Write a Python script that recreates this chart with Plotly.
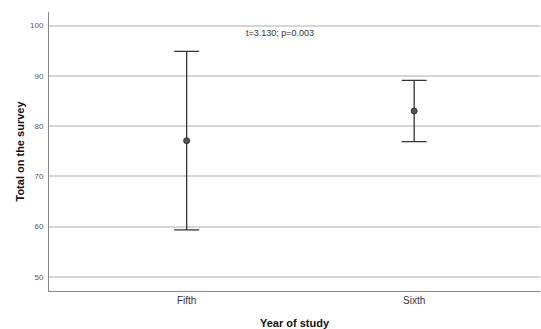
import plotly.graph_objects as go

categories = ["Fifth", "Sixth"]
means = [77.1, 83.0]
upper = [94.85, 89.1]
lower = [59.35, 76.9]
annotation_text = "t=3.130; p=0.003"

err_plus = [u - m for u, m in zip(upper, means)]
err_minus = [m - l for m, l in zip(means, lower)]

fig = go.Figure()
fig.add_trace(go.Scatter(
    x=[0, 1], y=means, mode="markers",
    marker=dict(size=6, color="#555555", line=dict(color="#333333", width=1)),
    error_y=dict(type="data", array=err_plus, arrayminus=err_minus,
                 color="#333333", thickness=1.3, width=12.5),
    showlegend=False, hoverinfo="skip",
))

fig.add_annotation(x=0.41, y=100.0, xref="x", yref="y", text=annotation_text,
                   showarrow=False, font=dict(family="Arial", size=9, color="#333333"),
                   yanchor="top")

fig.update_layout(
    width=541, height=329,
    margin=dict(l=49, r=1, t=12, b=38),
    plot_bgcolor="white", paper_bgcolor="white",
    font=dict(family="Arial"),
    xaxis=dict(
        range=[-0.605, 1.553], tickmode="array", tickvals=[0, 1], ticktext=categories,
        showgrid=False, zeroline=False, showline=True, linecolor="#888888", linewidth=1,
        ticks="", tickfont=dict(size=10, color="#333333"),
        title=dict(text="<b>Year of study</b>", font=dict(size=11, color="#111111"), standoff=14),
    ),
    yaxis=dict(
        range=[47.2, 102.7], tickmode="array", tickvals=[50, 60, 70, 80, 90, 100],
        showgrid=True, gridcolor="#d6d6d6", gridwidth=1.5, zeroline=False,
        showline=True, linecolor="#888888", linewidth=1, ticks="",
        tickfont=dict(size=8, color="#555555"), ticklabelstandoff=3,
        title=dict(text="<b>Total on the survey</b>", font=dict(size=11, color="#111111"), standoff=3),
    ),
)

fig.write_html("out.html", config={"displayModeBar": False},
               post_script="document.body.style.margin='0';document.body.style.overflow='hidden';")
